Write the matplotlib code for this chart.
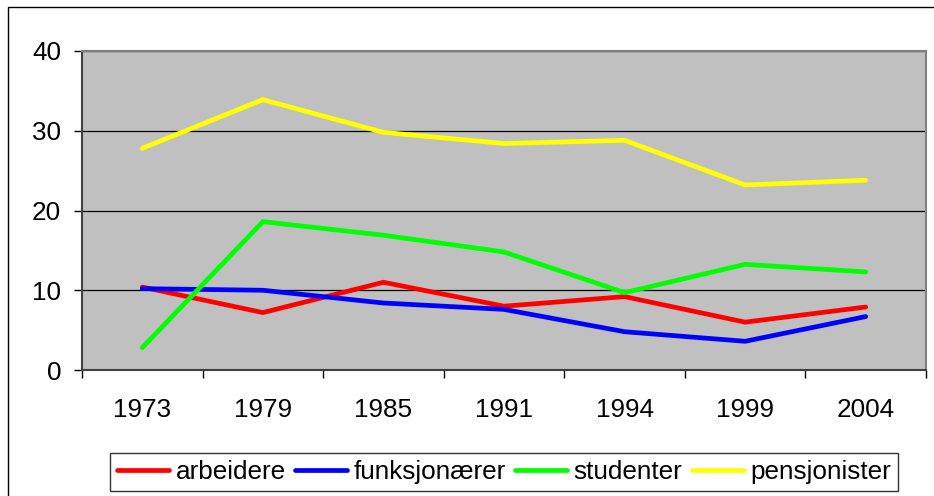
import numpy as np
import matplotlib
matplotlib.use("Agg")
import matplotlib.pyplot as plt
from matplotlib.patches import Rectangle

plt.rcParams['font.family'] = ['Liberation Sans', 'DejaVu Sans']

# Data
years = ["1973", "1979", "1985", "1991", "1994", "1999", "2004"]
arbeidere = [10.4, 7.2, 11.0, 8.0, 9.2, 6.0, 7.9]
funksjonaerer = [10.2, 10.0, 8.4, 7.6, 4.8, 3.6, 6.7]
studenter = [2.8, 18.6, 16.9, 14.8, 9.7, 13.25, 12.3]
pensjonister = [27.8, 33.9, 29.8, 28.4, 28.8, 23.2, 23.8]

series = [
    ("arbeidere", arbeidere, "#FF0000"),
    ("funksjonærer", funksjonaerer, "#0000FF"),
    ("studenter", studenter, "#00FF00"),
    ("pensjonister", pensjonister, "#FFFF00"),
]

W, H = 934, 496
fig = plt.figure(figsize=(W / 100, H / 100), dpi=100)
fs = 18.8

# outer chart border
fig.patches.append(Rectangle((8 / W, -0.1), 1.1, 1 - 7 / H + 0.1, transform=fig.transFigure,
                             fill=False, edgecolor="black", linewidth=1.0))

ax = fig.add_axes([82 / W, 1 - 370 / H, (926 - 82) / W, (370 - 51) / H])
ax.set_facecolor("#C0C0C0")

x = np.arange(len(years))
for name, vals, col in series:
    ax.plot(x, vals, color=col, linewidth=3.4, label=name, solid_capstyle="round",
            solid_joinstyle="miter", zorder=3)

ax.set_xlim(-0.5, len(years) - 0.5)
ax.set_ylim(0, 40)
ax.set_yticks([0, 10, 20, 30, 40])
ax.grid(axis="y", color="black", linewidth=0.9, zorder=1)
ax.set_axisbelow(True)

ax.set_xticks(np.arange(-0.5, len(years), 1))
ax.set_xticklabels([])
ax.set_xticks(x, minor=True)
ax.set_xticklabels(years, minor=True)
ax.tick_params(axis="x", which="major", direction="out", length=6, width=1, color="black")
ax.tick_params(axis="x", which="minor", length=0, pad=20, labelsize=fs)
ax.tick_params(axis="y", direction="out", length=6, width=1, color="black", pad=9, labelsize=fs)

for s in ["top", "right"]:
    ax.spines[s].set_color("#808080")
    ax.spines[s].set_linewidth(1.5)
ax.spines["left"].set_color("#404040")
ax.spines["left"].set_linewidth(1.5)
ax.spines["bottom"].set_color("#404040")
ax.spines["bottom"].set_linewidth(1.5)

leg = fig.legend(loc="center", bbox_to_anchor=(504 / W, 1 - 472 / H), ncol=4, fontsize=fs,
                 frameon=True, fancybox=False, edgecolor="black", handlelength=2.0,
                 handletextpad=0.25, columnspacing=0.35, borderpad=0.25, borderaxespad=0)
leg.get_frame().set_linewidth(1.0)
for ln in leg.get_lines():
    ln.set_linewidth(3.4)

fig.savefig("out.png", dpi=100)
